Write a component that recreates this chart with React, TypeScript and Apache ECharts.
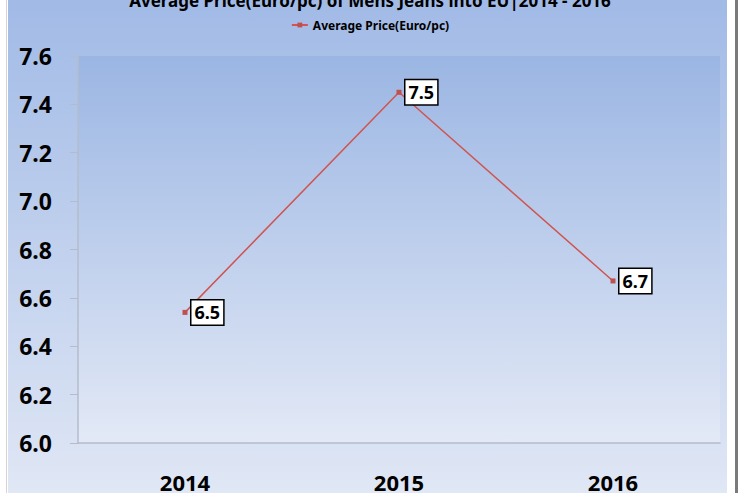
import React, { useEffect, useRef } from "react";
import * as echarts from "echarts";

const categories = ["2014", "2015", "2016"];
const avgPrice = [6.54, 7.45, 6.67];
const seriesName = "Average Price(Euro/pc)";
const titleText = "Average Price(Euro/pc) of Mens Jeans into EU|2014 - 2016";

const FONT = "'Noto Sans', 'Open Sans', sans-serif";

export default function App() {
  const ref = useRef<HTMLDivElement>(null);
  useEffect(() => {
    if (!ref.current) return;
    const chart = echarts.init(ref.current, undefined, { renderer: "svg" });
    chart.setOption({
      animation: false,
      backgroundColor: "#ffffff",
      graphic: [
        {
          type: "rect",
          z: -10,
          silent: true,
          shape: { x: 6, y: 0, width: 1, height: 493 },
          style: { fill: "#d4d4d4" },
        },
        {
          type: "rect",
          z: -10,
          silent: true,
          shape: { x: 8, y: 0, width: 719, height: 493 },
          style: {
            fill: new echarts.graphic.LinearGradient(0, 0, 0, 1, [
              { offset: 0, color: "#a1bae6" },
              { offset: 1, color: "#e0e7f5" },
            ]),
          },
        },
        {
          type: "rect",
          z: -10,
          silent: true,
          shape: { x: 735, y: 0, width: 3, height: 493 },
          style: { fill: "#7a7a7a" },
        },
      ],
      title: {
        text: titleText,
        left: "center",
        top: -13,
        textStyle: { fontFamily: FONT, fontSize: 17, fontWeight: "bold", color: "#000" },
      },
      legend: {
        top: 14,
        left: "center",
        itemWidth: 16,
        itemHeight: 6,
        itemGap: 4,
        textStyle: { fontFamily: FONT, fontSize: 12, fontWeight: "bold", color: "#000" },
        data: [seriesName],
      },
      grid: {
        left: 78,
        right: 20,
        top: 56,
        bottom: 43,
        show: true,
        borderWidth: 0,
        backgroundColor: new echarts.graphic.LinearGradient(0, 0, 0, 1, [
          { offset: 0, color: "#9bb6e3" },
          { offset: 1, color: "#e3e9f6" },
        ]),
      },
      xAxis: {
        type: "category",
        data: categories,
        boundaryGap: true,
        axisLine: { show: true, lineStyle: { color: "#b4bccb", width: 1.5 } },
        axisTick: { show: false },
        axisLabel: {
          margin: 28,
          fontFamily: FONT,
          fontSize: 22,
          fontWeight: "bold",
          color: "#000",
        },
      },
      yAxis: {
        type: "value",
        min: 6,
        max: 7.6,
        interval: 0.2,
        axisLine: { show: true, lineStyle: { color: "#b4bccb", width: 1.5 } },
        axisTick: { show: true, inside: false, length: 8, lineStyle: { color: "#b4bccb" } },
        splitLine: { show: false },
        axisLabel: {
          margin: 26,
          fontFamily: FONT,
          fontSize: 23,
          fontWeight: "bold",
          color: "#000",
          formatter: (v: number) => v.toFixed(1),
        },
      },
      series: [
        {
          name: seriesName,
          type: "line",
          data: avgPrice,
          symbol: "rect",
          symbolSize: 5,
          itemStyle: { color: "#c0504d" },
          lineStyle: { color: "#d05450", width: 1.5 },
          label: {
            show: true,
            position: "right",
            distance: 4,
            formatter: (p: any) => Number(p.value).toFixed(1),
            fontFamily: FONT,
            fontSize: 18,
            fontWeight: "bold",
            color: "#000",
            backgroundColor: "#ffffff",
            borderColor: "#000000",
            borderWidth: 1.5,
            padding: [4, 3, 2, 3],
          },
        },
      ],
    });
    return () => chart.dispose();
  }, []);
  return (
    <div
      ref={ref}
      style={{ position: "absolute", left: 0, top: 0, width: 740, height: 493 }}
    />
  );
}
